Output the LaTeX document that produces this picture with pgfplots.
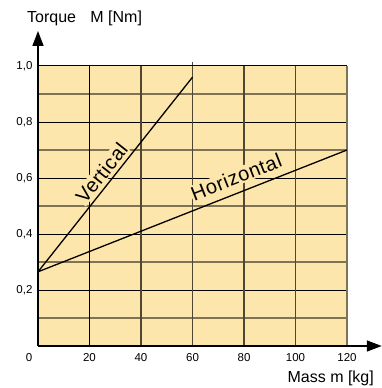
\documentclass[border=0pt]{standalone}
\usepackage{pgfplots}
\pgfplotsset{compat=1.18}
\usepackage{fontspec}
\setmainfont{Liberation Sans}
\usetikzlibrary{arrows.meta}
\definecolor{bgfill}{HTML}{FDE6AB}
\definecolor{minorc}{HTML}{7F7355}
\definecolor{vgrid}{HTML}{4F4634}
\begin{document}
\begin{tikzpicture}[x=1pt,y=1pt]
\useasboundingbox (-38,-42) rectangle (344,346);
\begin{axis}[
  at={(0,0)}, anchor=origin,
  scale only axis,
  width=309pt, height=280pt,
  xmin=0, xmax=120, ymin=0, ymax=1,
  clip=false,
  axis background/.style={fill=bgfill},
  axis line style={draw=none},
  xtick={20,40,60,80,100,120},
  ytick={0.2,0.4,0.6,0.8,1.0},
  extra x ticks={0},
  extra x tick style={grid=none, xticklabel style={xshift=-9pt}},
  major tick length=0pt,
  xticklabel style={font=\fontsize{11.5}{12}\selectfont, yshift=-4pt},
  yticklabel style={font=\fontsize{11.5}{12}\selectfont, xshift=-2pt},
  /pgf/number format/assume math mode=true,
  /pgf/number format/use comma,
  /pgf/number format/fixed,
  /pgf/number format/fixed zerofill,
  /pgf/number format/precision=1,
  xticklabel={\pgfmathprintnumber[fixed,precision=0,fixed zerofill=false]{\tick}},
  grid=none,
]
% horizontal grid lines
\addplot[minorc, line width=1.3pt, forget plot] coordinates {(0,0.1) (120,0.1)};
\addplot[minorc, line width=1.3pt, forget plot] coordinates {(0,0.3) (120,0.3)};
\addplot[minorc, line width=1.3pt, forget plot] coordinates {(0,0.5) (120,0.5)};
\addplot[minorc, line width=1.3pt, forget plot] coordinates {(0,0.7) (120,0.7)};
\addplot[minorc, line width=1.3pt, forget plot] coordinates {(0,0.9) (120,0.9)};
\addplot[black, line width=0.9pt, forget plot] coordinates {(0,0.2) (120,0.2)};
\addplot[black, line width=0.9pt, forget plot] coordinates {(0,0.4) (120,0.4)};
\addplot[black, line width=0.9pt, forget plot] coordinates {(0,0.6) (120,0.6)};
\addplot[black, line width=0.9pt, forget plot] coordinates {(0,0.8) (120,0.8)};
% vertical grid lines
\addplot[black, line width=1.0pt, forget plot] coordinates {(20,0) (20,1)};
\addplot[vgrid, line width=1.1pt, forget plot] coordinates {(40,0) (40,1)};
\addplot[vgrid, line width=1.1pt, forget plot] coordinates {(60,0) (60,1.015)};
\addplot[vgrid, line width=1.1pt, forget plot] coordinates {(80,0) (80,1)};
\addplot[vgrid, line width=1.1pt, forget plot] coordinates {(100,0) (100,1)};
\addplot[minorc, line width=1.3pt, forget plot] coordinates {(120,0) (120,1)};
\addplot[black, line width=1.0pt, forget plot] coordinates {(0,1) (120,1)};
% labels masking the grid
\addplot[draw=none, forget plot] coordinates {(0,0.265) (60,0.96)}
  node[pos=0.47, sloped, above, yshift=3pt, fill=bgfill, inner sep=1pt, font=\fontsize{20}{21}\selectfont\addfontfeature{LetterSpace=3}] {Vertical};
\addplot[draw=none, forget plot] coordinates {(0,0.265) (120,0.70)}
  node[pos=0.66, sloped, above, yshift=7pt, fill=bgfill, inner sep=1pt, font=\fontsize{20}{21}\selectfont\addfontfeature{LetterSpace=3}] {Horizontal};
% data lines
\addplot[black, line width=1.3pt] coordinates {(0,0.265) (60,0.96)};
\addplot[black, line width=1.3pt] coordinates {(0,0.265) (120,0.70)};
% axes with arrows
\draw[black, line width=1.6pt, -{Triangle[length=15pt,width=11pt]}] (axis cs:0,0) -- (axis cs:0,1.125);
\draw[black, line width=1.6pt, -{Triangle[length=15pt,width=11pt]}] (axis cs:0,0) -- (axis cs:133.5,0);
% axis titles
\node[anchor=base west, inner sep=0pt, font=\fontsize{16}{17}\selectfont] at (axis cs:-4.3,1.157) {Torque\hspace{0.9em}M [Nm]};
\node[anchor=base east, inner sep=0pt, font=\fontsize{16}{17}\selectfont] at (axis cs:130.5,-0.132) {Mass m [kg]};
\end{axis}
\end{tikzpicture}
\end{document}
